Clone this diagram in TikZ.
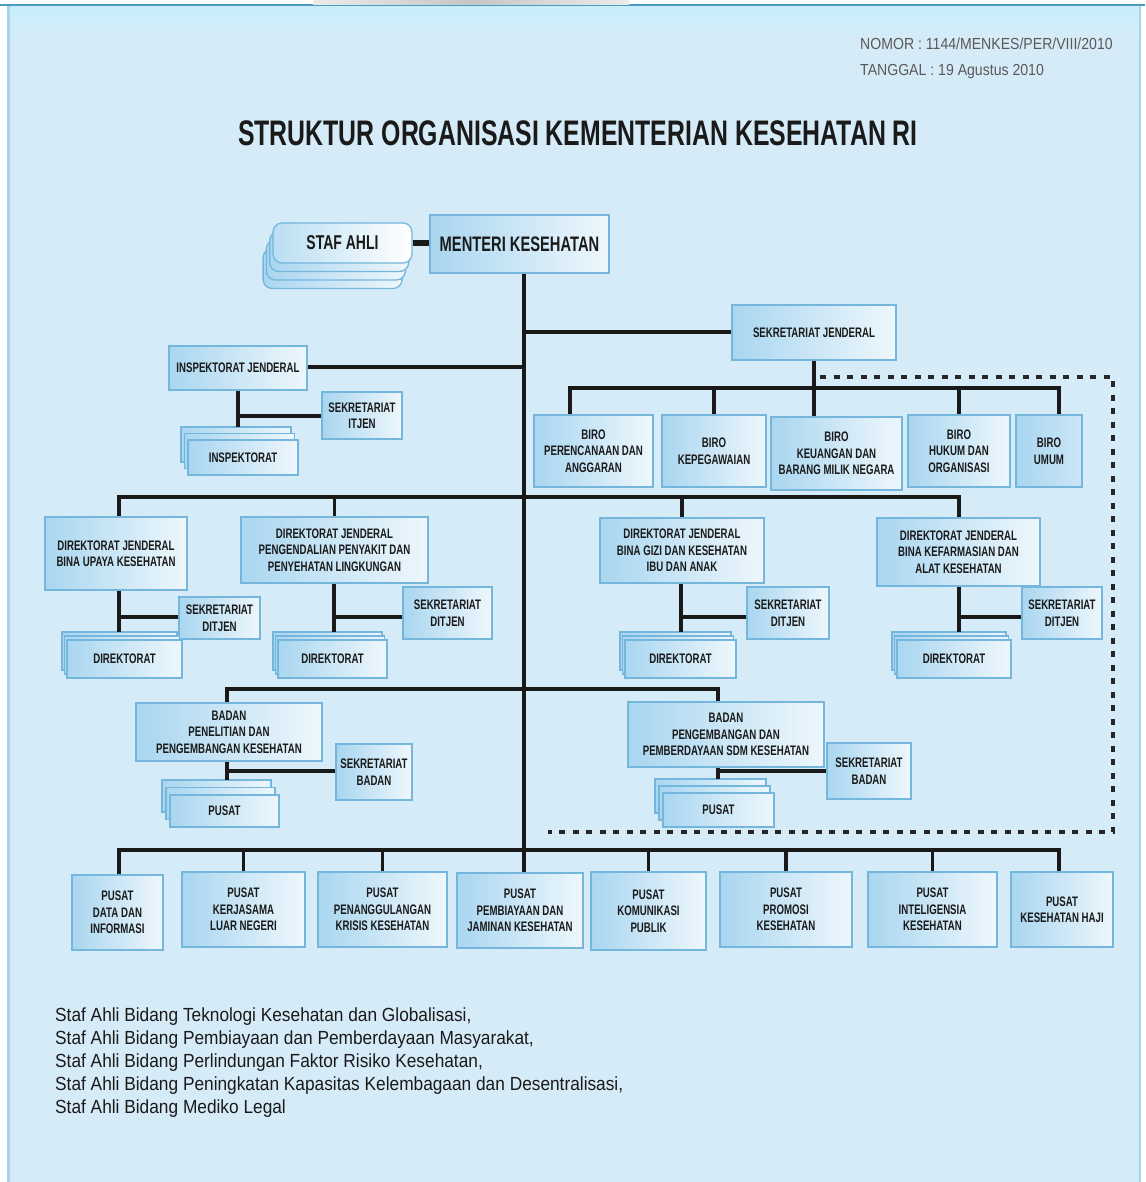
\documentclass[tikz,border=0pt]{standalone}
\usepackage{fontspec}
\setmainfont{Liberation Sans}
\newfontfamily\cnd[FakeStretch=0.7]{Liberation Sans}
\newfontfamily\cndr[FakeStretch=0.91]{Liberation Sans}
\newfontfamily\cndn[FakeStretch=0.88]{Liberation Sans}
\definecolor{panel}{HTML}{D6EBF8}
\definecolor{paneltop}{HTML}{C9EEFB}
\definecolor{boxline}{HTML}{74B6DC}
\definecolor{boxA}{HTML}{A9D6F0}
\definecolor{boxB}{HTML}{EEF7FC}
\definecolor{edgeT}{HTML}{4A9CC0}
\definecolor{edgeL}{HTML}{A5D5EC}
\definecolor{txt}{HTML}{1A1A1A}
\newcommand\bx[7][]{\node[box,#1,minimum width={#5pt-#3pt},minimum height={#6pt-#4pt}] (#2) at ({(#3+#5)/2},{(#4+#6)/2}) {#7};}
\newcommand\stk[8]{%
 \path[boxbg] ({#2+2*(#6)},{#3+2*(#7)}) rectangle ({#4+2*(#6)},{#5+2*(#7)});
 \path[boxbg] ({#2+#6},{#3+#7}) rectangle ({#4+#6},{#5+#7});
 \coordinate (#1top) at ({(#2+#4)/2+2*(#6)},{#3+2*(#7)});
 \bx{#1}{#2}{#3}{#4}{#5}{#8}}
\begin{document}
\begin{tikzpicture}[x=1pt,y=-1pt,
 box/.style={draw=boxline,line width=1.3,left color=boxA,right color=boxB,inner sep=1,align=center,text=txt,font=\cnd\bfseries\fontsize{13.8}{16.5}\selectfont},
 boxbg/.style={draw=boxline,line width=1.3,left color=boxA,right color=boxB},
 ln/.style={line width=3.8,draw=black!90},
 dotl/.style={line width=4.5,draw=black!85,dash pattern=on 6 off 7.5}]
\useasboundingbox (0,0) rectangle (1145,1182);
% background
\fill[white] (0,0) rectangle (1145,1182);
\fill[panel] (7,5) rectangle (1141,1182);
\shade[top color=paneltop,bottom color=panel] (7,5) rectangle (1141,40);
\draw[edgeL,line width=3] (8.5,5) -- (8.5,1182);
\draw[edgeL,line width=2] (1140,5) -- (1140,1182);
\draw[edgeT,line width=2.2] (0,5.2) -- (1145,5.2);
\shade[left color=gray!15,right color=gray!15,middle color=gray!45] (313,0) rectangle (629,4.2);
% header texts
\node[anchor=north west,align=left,text=black!65,font=\cndn\fontsize{16}{26}\selectfont,inner sep=0] (nomor) at (860,38) {NOMOR : 1144/MENKES/PER/VIII/2010\\TANGGAL : 19 Agustus 2010};
\node[font=\cnd\bfseries\fontsize{35.5}{40}\selectfont,text=txt] (title) at (578,133) {STRUKTUR ORGANISASI KEMENTERIAN KESEHATAN RI};
% staf ahli
\foreach \k in {3,2,1} \path[boxbg,rounded corners=9] ({273-3.3*\k},{223+8.5*\k}) rectangle ({412-3.3*\k},{263+8.5*\k});
\bx[rounded corners=9,font=\cnd\bfseries\fontsize{20}{24}\selectfont,left color=boxA!80,right color=white]{staf}{273}{223}{412}{263}{STAF AHLI}
\bx[font=\cnd\bfseries\fontsize{21}{24}\selectfont]{menteri}{430}{215}{609}{273}{MENTERI KESEHATAN}
% sekjen and inspektorat
\bx{sekjen}{732}{305}{896}{360}{SEKRETARIAT JENDERAL}
\bx{insp}{169}{346}{307}{390}{INSPEKTORAT JENDERAL}
\bx{sekit}{322}{392}{402}{439}{SEKRETARIAT\\ITJEN}
\stk{inspk}{188}{440}{298}{475}{-3.5}{-6.5}{INSPEKTORAT}
% biro
\bx{b1}{534}{415}{653}{487}{BIRO\\PERENCANAAN DAN\\ANGGARAN}
\bx{b2}{662}{415}{766}{487}{BIRO\\KEPEGAWAIAN}
\bx{b3}{771}{417}{902}{490}{BIRO\\KEUANGAN DAN\\BARANG MILIK NEGARA}
\bx{b4}{908}{415}{1010}{487}{BIRO\\HUKUM DAN\\ORGANISASI}
\bx[left color=boxA,right color=boxA!60]{b5}{1016}{415}{1082}{487}{BIRO\\UMUM}
% direktorat jenderal
\bx{dj1}{45}{517}{187}{590}{DIREKTORAT JENDERAL\\BINA UPAYA KESEHATAN}
\bx{dj2}{241}{517}{428}{583}{DIREKTORAT JENDERAL\\PENGENDALIAN PENYAKIT DAN\\PENYEHATAN LINGKUNGAN}
\bx{dj3}{600}{518}{764}{583}{DIREKTORAT JENDERAL\\BINA GIZI DAN KESEHATAN\\IBU DAN ANAK}
\bx{dj4}{877}{518}{1040}{586}{DIREKTORAT JENDERAL\\BINA KEFARMASIAN DAN\\ALAT KESEHATAN}
\bx{sek1}{179}{597}{260}{639}{SEKRETARIAT\\DITJEN}
\bx{sek2}{403}{587}{492}{639}{SEKRETARIAT\\DITJEN}
\bx{sek3}{747}{587}{829}{639}{SEKRETARIAT\\DITJEN}
\bx{sek4}{1022}{587}{1102}{639}{SEKRETARIAT\\DITJEN}
\stk{dir1}{67}{640}{182}{678}{-2.5}{-4}{DIREKTORAT}
\stk{dir2}{278}{640}{387}{678}{-2.5}{-4}{DIREKTORAT}
\stk{dir3}{625}{640}{736}{678}{-2.5}{-4}{DIREKTORAT}
\stk{dir4}{897}{640}{1011}{678}{-2.5}{-4}{DIREKTORAT}
% badan
\bx{bd1}{136}{703}{322}{761}{BADAN\\PENELITIAN DAN\\PENGEMBANGAN KESEHATAN}
\bx{bd2}{628}{702}{824}{767}{BADAN\\PENGEMBANGAN DAN\\PEMBERDAYAAN SDM KESEHATAN}
\bx{sb1}{336}{744}{412}{800}{SEKRETARIAT\\BADAN}
\bx{sb2}{827}{743}{911}{799}{SEKRETARIAT\\BADAN}
\stk{pus1}{170}{795}{279}{827}{-4}{-7.5}{PUSAT}
\stk{pus2}{663}{793}{774}{827}{-4}{-7}{PUSAT}
% pusat row
\bx{p1}{72}{875}{163}{950}{PUSAT\\DATA DAN\\INFORMASI}
\bx{p2}{182}{872}{305}{947}{PUSAT\\KERJASAMA\\LUAR NEGERI}
\bx{p3}{318}{872}{447}{947}{PUSAT\\PENANGGULANGAN\\KRISIS KESEHATAN}
\bx{p4}{457}{873}{583}{948}{PUSAT\\PEMBIAYAAN DAN\\JAMINAN KESEHATAN}
\bx{p5}{591}{872}{706}{950}{PUSAT\\KOMUNIKASI\\PUBLIK}
\bx{p6}{720}{872}{852}{947}{PUSAT\\PROMOSI\\KESEHATAN}
\bx{p7}{868}{872}{997}{947}{PUSAT\\INTELIGENSIA\\KESEHATAN}
\bx{p8}{1011}{872}{1113}{947}{PUSAT\\KESEHATAN HAJI}
% connectors
\draw[line width=5.5,black!90] (staf.east) -- (staf.east -| menteri.west);
\coordinate (sp) at (524,850);
\draw[ln] (sp |- menteri.south) -- (sp |- p4.north);
\coordinate (sIns) at (524,367);
\draw[ln] (sIns) -- (sIns -| insp.east);
\coordinate (sSek) at (524,332);
\draw[ln] (sSek) -- (sSek -| sekjen.west);
\coordinate (iv) at (238,416);
\draw[ln] (iv |- insp.south) -- (iv |- inspktop);
\draw[ln] (iv) -- (iv -| sekit.west);
% biro bus
\coordinate (bL) at (570,388);
\coordinate (bR) at (1059,388);
\draw[ln] (bL |- b1.north) -- (bL) -- (bR) -- (bR |- b5.north);
\draw[ln] (sekjen.south) -- (sekjen.south |- b3.north);
\draw[ln] (b2.north |- bL) -- (b2.north);
\draw[ln] (b4.north |- bL) -- (b4.north);
% dotted line
\coordinate (d1) at (820,377);
\coordinate (d2) at (1113,377);
\coordinate (d3) at (1113,832);
\coordinate (d4) at (548,832);
\draw[dotl] (d1) -- (d2) -- (d3) -- (d4);
% ditjen bus
\coordinate (jL) at (119,497);
\coordinate (jR) at (959,497);
\draw[ln] (jL |- dj1.north) -- (jL) -- (jR) -- (jR |- dj4.north);
\draw[ln] (dj2.north |- jL) -- (dj2.north);
\draw[ln] (dj3.north |- jL) -- (dj3.north);
\coordinate (v1) at (119,617);
\coordinate (v2) at (334,617);
\coordinate (v3) at (681,617);
\coordinate (v4) at (959,617);
\draw[ln] (v1 |- dj1.south) -- (v1 |- dir1top);
\draw[ln] (v1) -- (v1 -| sek1.west);
\draw[ln] (v2 |- dj2.south) -- (v2 |- dir2top);
\draw[ln] (v2) -- (v2 -| sek2.west);
\draw[ln] (v3 |- dj3.south) -- (v3 |- dir3top);
\draw[ln] (v3) -- (v3 -| sek3.west);
\draw[ln] (v4 |- dj4.south) -- (v4 |- dir4top);
\draw[ln] (v4) -- (v4 -| sek4.west);
% badan bus
\coordinate (aL) at (227,689);
\coordinate (aR) at (718,689);
\draw[ln] (aL |- bd1.north) -- (aL) -- (aR) -- (aR |- bd2.north);
\coordinate (w1) at (227,771);
\coordinate (w2) at (718,771);
\draw[ln] (w1 |- bd1.south) -- (w1 |- pus1top);
\draw[ln] (w1) -- (w1 -| sb1.west);
\draw[ln] (w2 |- bd2.south) -- (w2 |- pus2top);
\draw[ln] (w2) -- (w2 -| sb2.west);
% bottom bus
\coordinate (qL) at (119,850);
\coordinate (qR) at (1059,850);
\draw[ln] (qL |- p1.north) -- (qL) -- (qR) -- (qR |- p8.north);
\draw[ln] (p2.north |- qL) -- (p2.north);
\draw[ln] (p3.north |- qL) -- (p3.north);
\draw[ln] (p5.north |- qL) -- (p5.north);
\draw[ln] (p6.north |- qL) -- (p6.north);
\draw[ln] (p7.north |- qL) -- (p7.north);
% footer
\node[anchor=north west,align=left,inner sep=0,text=txt,font=\cndr\fontsize{19}{23}\selectfont] (footer) at (55,1008) {Staf Ahli Bidang Teknologi Kesehatan dan Globalisasi,\\Staf Ahli Bidang Pembiayaan dan Pemberdayaan Masyarakat,\\Staf Ahli Bidang Perlindungan Faktor Risiko Kesehatan,\\Staf Ahli Bidang Peningkatan Kapasitas Kelembagaan dan Desentralisasi,\\Staf Ahli Bidang Mediko Legal};
\end{tikzpicture}
\end{document}
